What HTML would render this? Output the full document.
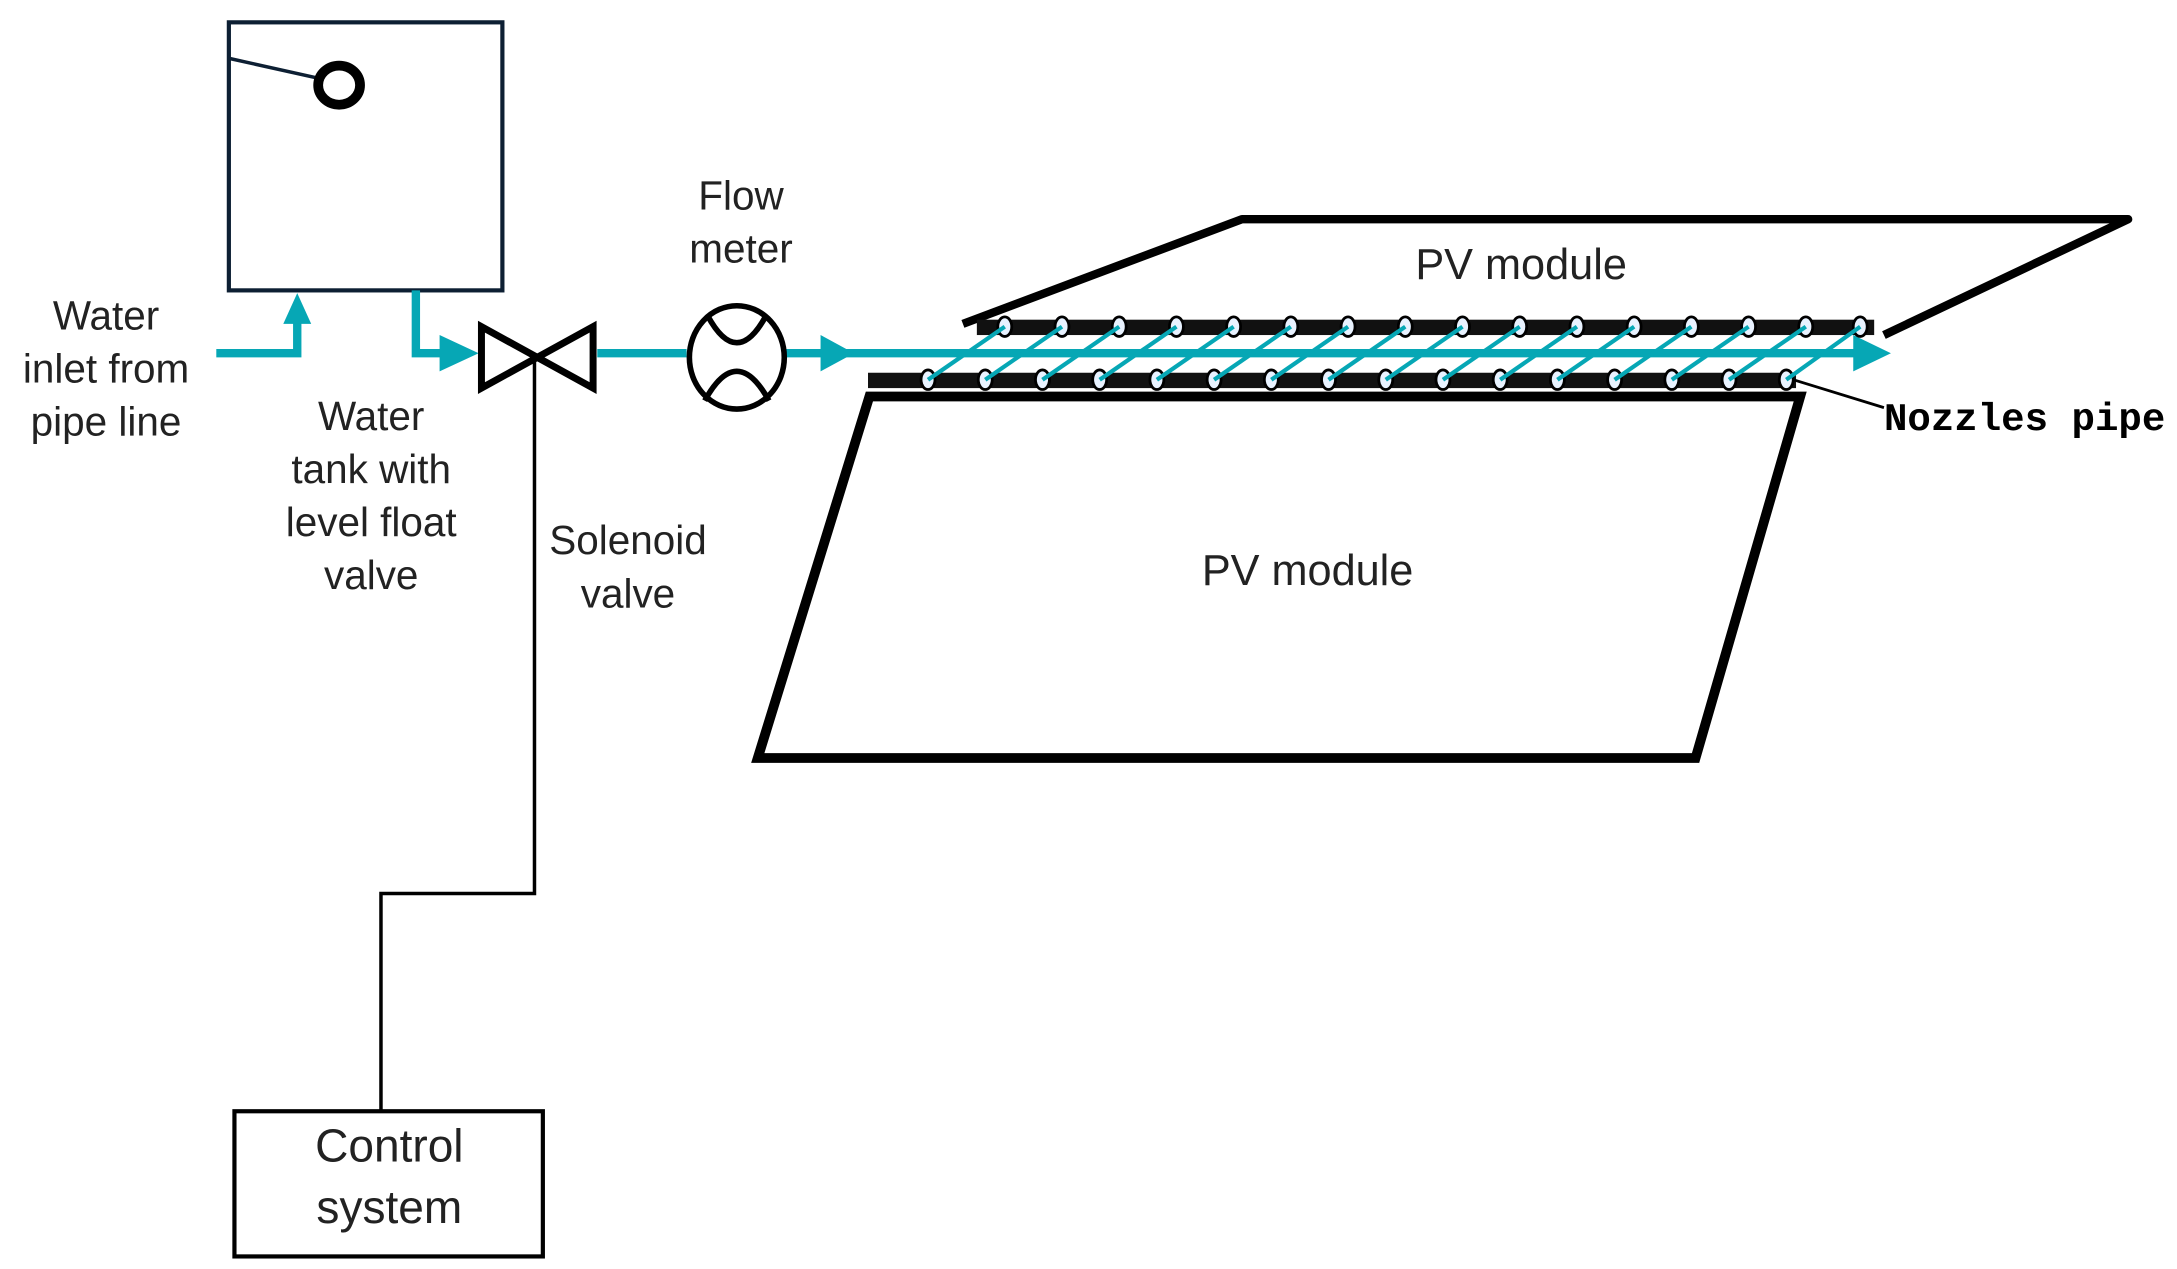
<!DOCTYPE html>
<html><head><style>html,body{margin:0;padding:0;background:#fff}svg{display:block}
text{font-family:"Liberation Sans",sans-serif;font-size:29px;fill:#222;text-anchor:middle}</style></head>
<body>
<svg width="2177" height="1269" viewBox="0 0 1560 909" preserveAspectRatio="none" xmlns="http://www.w3.org/2000/svg">
<!-- tank -->
<rect x="164" y="16" width="196" height="192" fill="none" stroke="#0d1f33" stroke-width="3"/>
<line x1="165" y1="42" x2="228" y2="56" stroke="#0d1f33" stroke-width="2.5"/>
<ellipse cx="243" cy="61" rx="15" ry="14" fill="none" stroke="#000" stroke-width="7"/>
<!-- teal pipes -->
<g stroke="#06a7b5" stroke-width="6" fill="none">
<polyline points="155,253 213,253 213,225"/>
<polyline points="298,208 298,253 320,253"/>
<line x1="428" y1="253" x2="492" y2="253"/>
<line x1="563" y1="253" x2="1330" y2="253"/>
</g>
<g fill="#06a7b5">
<polygon points="213,210 203,232 223,232"/>
<polygon points="343,253 315,240 315,266"/>
<polygon points="612,253 588,240 588,266"/>
<polygon points="1355,253 1328,240 1328,266"/>
</g>
<!-- valve -->
<polygon points="345,234 345,278 425,234 425,278" fill="none" stroke="#000" stroke-width="5" stroke-linejoin="miter"/>
<polyline points="383,256 383,640 273,640 273,795" fill="none" stroke="#000" stroke-width="2.5"/>
<!-- flow meter -->
<ellipse cx="528" cy="256" rx="34" ry="37" fill="none" stroke="#000" stroke-width="4"/>
<path d="M507,226 Q528,265 549,226" fill="none" stroke="#000" stroke-width="4"/>
<path d="M505,287 Q528,245 551,287" fill="none" stroke="#000" stroke-width="4"/>
<!-- control -->
<rect x="168" y="796" width="221" height="104" fill="none" stroke="#000" stroke-width="3"/>
<!-- PV modules -->
<polyline points="690,232 890,157 1525,157 1350,240" fill="none" stroke="#000" stroke-width="6" stroke-linejoin="round"/>
<polygon points="623,284 1290,284 1215,543 543,543" fill="none" stroke="#000" stroke-width="7"/>
<!-- nozzle pipes -->
<rect x="700" y="229" width="643" height="11" fill="#111"/>
<rect x="622" y="267" width="665" height="11" fill="#111"/>
<line x1="1285" y1="272" x2="1350" y2="292" stroke="#000" stroke-width="2"/>
<g fill="#e8f2ff" stroke="#000" stroke-width="2">
<ellipse cx="720" cy="234" rx="5" ry="7"/><ellipse cx="761" cy="234" rx="5" ry="7"/><ellipse cx="802" cy="234" rx="5" ry="7"/><ellipse cx="843" cy="234" rx="5" ry="7"/><ellipse cx="884" cy="234" rx="5" ry="7"/><ellipse cx="925" cy="234" rx="5" ry="7"/><ellipse cx="966" cy="234" rx="5" ry="7"/><ellipse cx="1007" cy="234" rx="5" ry="7"/><ellipse cx="1048" cy="234" rx="5" ry="7"/><ellipse cx="1089" cy="234" rx="5" ry="7"/><ellipse cx="1130" cy="234" rx="5" ry="7"/><ellipse cx="1171" cy="234" rx="5" ry="7"/><ellipse cx="1212" cy="234" rx="5" ry="7"/><ellipse cx="1253" cy="234" rx="5" ry="7"/><ellipse cx="1294" cy="234" rx="5" ry="7"/><ellipse cx="1333" cy="234" rx="5" ry="7"/>
<ellipse cx="665" cy="272" rx="5" ry="7"/><ellipse cx="706" cy="272" rx="5" ry="7"/><ellipse cx="747" cy="272" rx="5" ry="7"/><ellipse cx="788" cy="272" rx="5" ry="7"/><ellipse cx="829" cy="272" rx="5" ry="7"/><ellipse cx="870" cy="272" rx="5" ry="7"/><ellipse cx="911" cy="272" rx="5" ry="7"/><ellipse cx="952" cy="272" rx="5" ry="7"/><ellipse cx="993" cy="272" rx="5" ry="7"/><ellipse cx="1034" cy="272" rx="5" ry="7"/><ellipse cx="1075" cy="272" rx="5" ry="7"/><ellipse cx="1116" cy="272" rx="5" ry="7"/><ellipse cx="1157" cy="272" rx="5" ry="7"/><ellipse cx="1198" cy="272" rx="5" ry="7"/><ellipse cx="1239" cy="272" rx="5" ry="7"/><ellipse cx="1280" cy="272" rx="5" ry="7"/>
</g>
<g stroke="#06a7b5" stroke-width="3">
<line x1="665" y1="272" x2="720" y2="234"/><line x1="706" y1="272" x2="761" y2="234"/><line x1="747" y1="272" x2="802" y2="234"/><line x1="788" y1="272" x2="843" y2="234"/><line x1="829" y1="272" x2="884" y2="234"/><line x1="870" y1="272" x2="925" y2="234"/><line x1="911" y1="272" x2="966" y2="234"/><line x1="952" y1="272" x2="1007" y2="234"/><line x1="993" y1="272" x2="1048" y2="234"/><line x1="1034" y1="272" x2="1089" y2="234"/><line x1="1075" y1="272" x2="1130" y2="234"/><line x1="1116" y1="272" x2="1171" y2="234"/><line x1="1157" y1="272" x2="1212" y2="234"/><line x1="1198" y1="272" x2="1253" y2="234"/><line x1="1239" y1="272" x2="1294" y2="234"/><line x1="1280" y1="272" x2="1333" y2="234"/>
</g>
<!-- labels -->
<text x="76" y="236">Water</text><text x="76" y="274">inlet from</text><text x="76" y="312">pipe line</text>
<text x="266" y="308">Water</text><text x="266" y="346">tank with</text><text x="266" y="384">level float</text><text x="266" y="422">valve</text>
<text x="450" y="397">Solenoid</text><text x="450" y="435">valve</text>
<text x="531" y="150">Flow</text><text x="531" y="188">meter</text>
<text x="1090" y="200" style="font-size:31px">PV module</text>
<text x="937" y="419" style="font-size:31px">PV module</text>
<text x="1350" y="308" style="font-family:'Liberation Mono',monospace;font-size:28px;font-weight:bold;fill:#000;text-anchor:start">Nozzles pipe</text>
<text x="279" y="832" style="font-size:33px">Control</text><text x="279" y="876" style="font-size:33px">system</text>
</svg>
</body></html>
